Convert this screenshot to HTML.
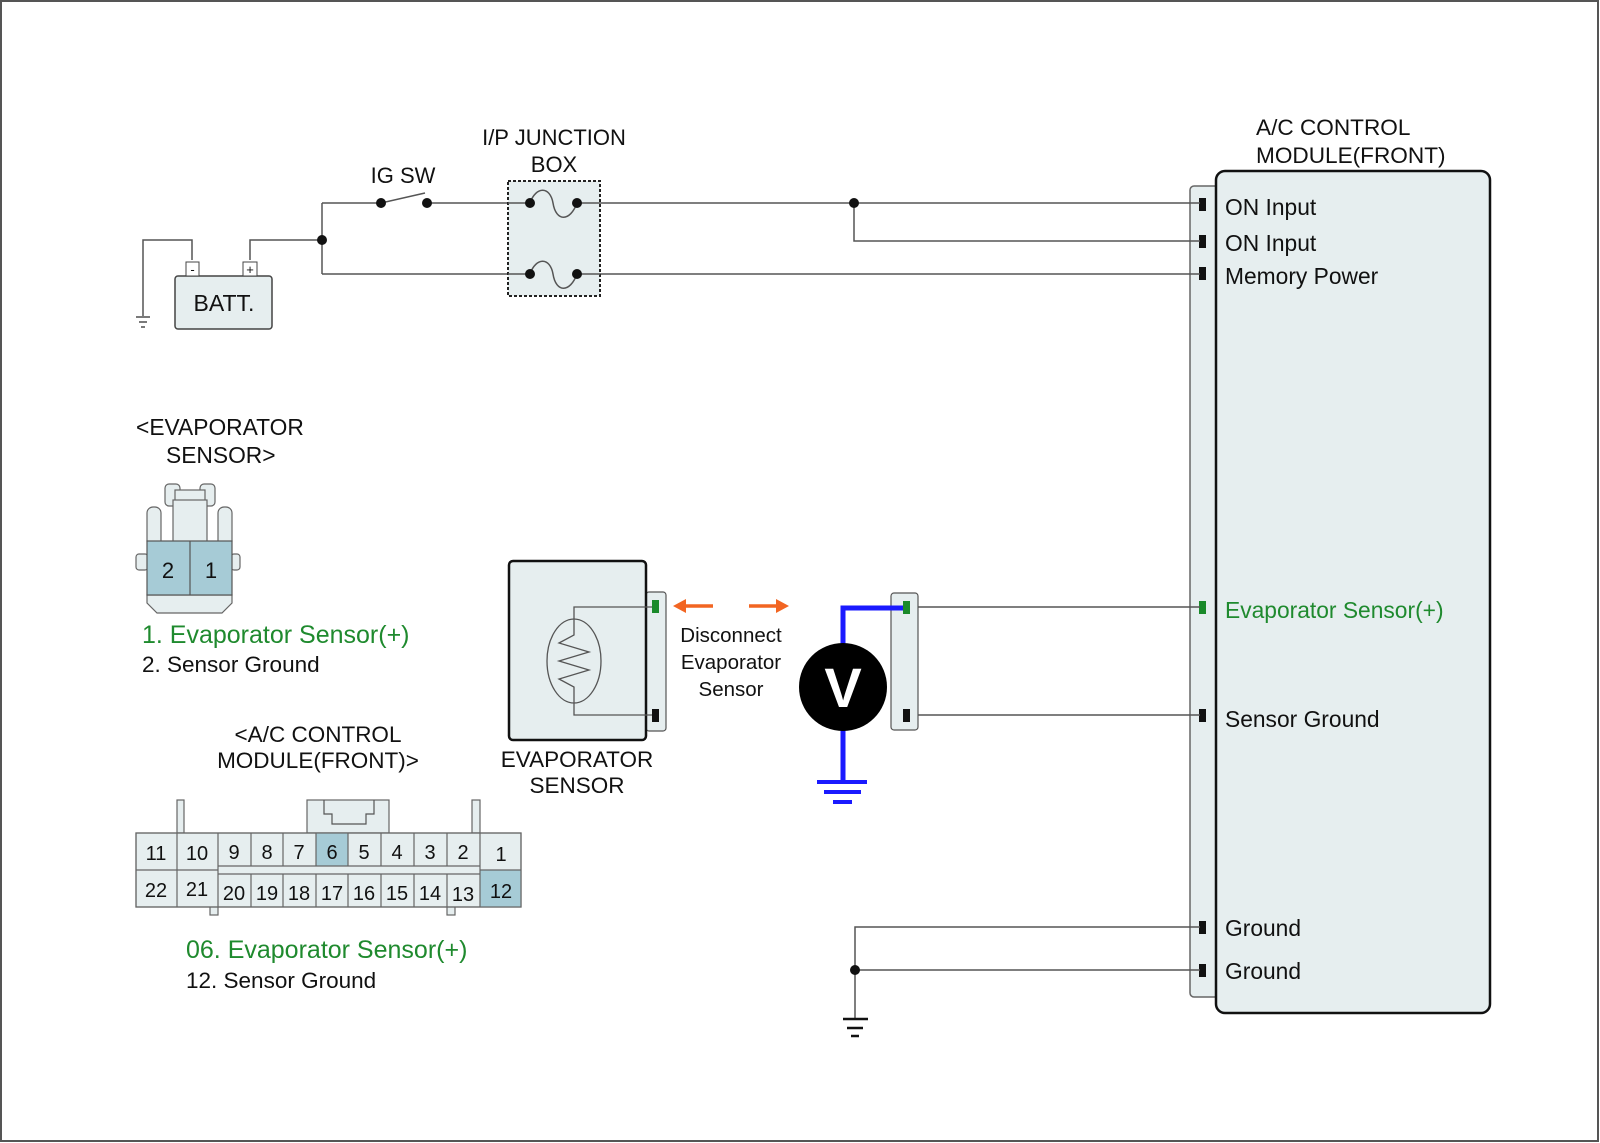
<!DOCTYPE html>
<html><head><meta charset="utf-8"><style>
html,body{margin:0;padding:0;background:#fff}
svg{display:block}
text{font-family:"Liberation Sans",Arial,sans-serif;fill:#111}
</style></head><body>
<svg width="1600" height="1143" viewBox="0 0 1600 1143" xmlns="http://www.w3.org/2000/svg">
<rect x="1" y="1" width="1597" height="1140" fill="#fff" stroke="#555" stroke-width="2"/>

<!-- A/C module -->
<rect x="1190" y="186" width="30" height="811" rx="4" fill="#e6eeef" stroke="#666" stroke-width="1.5"/>
<rect x="1216" y="171" width="274" height="842" rx="9" fill="#e6eeef" stroke="#111" stroke-width="2.5"/>
<text x="1256" y="135" font-size="22.6">A/C CONTROL</text>
<text x="1256" y="163" font-size="22.6">MODULE(FRONT)</text>
<g fill="#111">
<rect x="1199" y="198" width="7" height="13"/><rect x="1199" y="235" width="7" height="13"/><rect x="1199" y="267" width="7" height="13"/>
<rect x="1199" y="709" width="7" height="13"/><rect x="1199" y="921" width="7" height="13"/><rect x="1199" y="964" width="7" height="13"/>
</g>
<rect x="1199" y="601" width="7" height="13" fill="#1a8a2a"/>
<g font-size="22.8">
<text x="1225" y="215">ON Input</text>
<text x="1225" y="251">ON Input</text>
<text x="1225" y="284">Memory Power</text>
<text x="1225" y="618" style="fill:#1f8a2e">Evaporator Sensor(+)</text>
<text x="1225" y="727">Sensor Ground</text>
<text x="1225" y="936">Ground</text>
<text x="1225" y="979">Ground</text>
</g>

<!-- Power wiring -->
<g stroke="#555" stroke-width="1.5" fill="none">
<polyline points="143,316 143,240 192,240 192,260"/>
<polyline points="250,260 250,240 322,240"/>
<polyline points="322,203 322,274"/>
<line x1="322" y1="203" x2="381" y2="203"/>
<line x1="381" y1="203" x2="425" y2="193"/>
<line x1="427" y1="203" x2="508" y2="203"/>
<line x1="322" y1="274" x2="508" y2="274"/>
<line x1="600" y1="203" x2="1200" y2="203"/>
<line x1="600" y1="274" x2="1200" y2="274"/>
<polyline points="854,203 854,241 1200,241"/>
<line x1="918" y1="607" x2="1200" y2="607"/>
<line x1="918" y1="715" x2="1200" y2="715"/>
<polyline points="1200,927 855,927 855,1019"/>
<line x1="855" y1="970" x2="1200" y2="970"/>
</g>
<g stroke="#333" stroke-width="1.3"><line x1="136" y1="317" x2="150" y2="317"/><line x1="139" y1="322" x2="147" y2="322"/><line x1="141" y1="327" x2="145" y2="327"/></g>
<g stroke="#111" stroke-width="2.5"><line x1="843" y1="1019" x2="868" y2="1019"/><line x1="847" y1="1028" x2="863" y2="1028"/><line x1="851" y1="1036" x2="859" y2="1036"/></g>
<rect x="508" y="181" width="92" height="115" fill="#e6eeef" stroke="#222" stroke-width="2" stroke-dasharray="3,2"/>
<g stroke="#555" stroke-width="1.5" fill="none">
<line x1="508" y1="203" x2="530" y2="203"/><line x1="508" y1="274" x2="530" y2="274"/>
<line x1="577" y1="203" x2="600" y2="203"/><line x1="577" y1="274" x2="600" y2="274"/>
<path d="M530,203 C536,186 550,186 553,203 C556,222 570,222 577,203"/>
<path d="M530,274 C536,257 550,257 553,274 C556,293 570,293 577,274"/>
</g>
<g fill="#111">
<circle cx="322" cy="240" r="5"/><circle cx="381" cy="203" r="5"/><circle cx="427" cy="203" r="5"/>
<circle cx="530" cy="203" r="5"/><circle cx="577" cy="203" r="5"/><circle cx="530" cy="274" r="5"/><circle cx="577" cy="274" r="5"/>
<circle cx="854" cy="203" r="5"/><circle cx="855" cy="970" r="5"/>
</g>
<text x="403" y="183" font-size="22" text-anchor="middle">IG SW</text>
<text x="554" y="145" font-size="22" text-anchor="middle">I/P JUNCTION</text>
<text x="554" y="172" font-size="22" text-anchor="middle">BOX</text>

<!-- Battery -->
<rect x="175" y="276" width="97" height="53" rx="3" fill="#e6eeef" stroke="#444" stroke-width="1.5"/>
<rect x="186" y="262" width="13" height="14" fill="#fff" stroke="#444"/>
<rect x="243" y="262" width="14" height="14" fill="#fff" stroke="#444"/>
<text x="192.5" y="274" font-size="13" text-anchor="middle">-</text>
<text x="250" y="274" font-size="13" text-anchor="middle">+</text>
<text x="224" y="311" font-size="23" text-anchor="middle">BATT.</text>

<!-- Evaporator connector face -->
<text x="136" y="435" font-size="22.8">&lt;EVAPORATOR</text>
<text x="166" y="463" font-size="22.8">SENSOR&gt;</text>
<g fill="#e6eeef" stroke="#666" stroke-width="1.2">
<rect x="165" y="484" width="15" height="22" rx="4"/><rect x="200" y="484" width="15" height="22" rx="4"/>
<rect x="175" y="490" width="30" height="12"/>
<rect x="173" y="500" width="34" height="42"/>
<rect x="147" y="507" width="14" height="40" rx="6"/><rect x="218" y="507" width="14" height="40" rx="6"/>
<rect x="136" y="554" width="12" height="16" rx="3"/><rect x="231" y="554" width="9" height="16" rx="3"/>
<path d="M147,595 L232,595 L232,603 L222,613 L157,613 L147,603 Z"/>
</g>
<rect x="147" y="541" width="85" height="54" fill="#a6cbd6" stroke="#555" stroke-width="1.2"/>
<line x1="190" y1="541" x2="190" y2="595" stroke="#555" stroke-width="1.2"/>
<text x="168" y="578" font-size="22" text-anchor="middle">2</text>
<text x="211" y="578" font-size="22" text-anchor="middle">1</text>
<text x="142" y="643" font-size="25" style="fill:#1f8a2e">1. Evaporator Sensor(+)</text>
<text x="142" y="672" font-size="22.5">2. Sensor Ground</text>

<!-- A/C module connector face -->
<text x="318" y="742" font-size="22.5" text-anchor="middle">&lt;A/C CONTROL</text>
<text x="318" y="768" font-size="22.5" text-anchor="middle">MODULE(FRONT)&gt;</text>
<g fill="#e6eeef" stroke="#666" stroke-width="1.2">
<rect x="177" y="800" width="7" height="33"/><rect x="472" y="800" width="8" height="33"/>
<rect x="307" y="800" width="82" height="33"/>
<rect x="210" y="905" width="8" height="10"/><rect x="447" y="905" width="8" height="10"/>
<rect x="136" y="833" width="385" height="74"/>
</g>
<path d="M324,800 L324,814 L332,814 L332,824 L366,824 L366,814 L374,814 L374,800" fill="none" stroke="#555" stroke-width="1.2"/>
<rect x="316" y="833" width="32" height="33" fill="#a6cbd6"/>
<rect x="480" y="870" width="41" height="37" fill="#a6cbd6"/>
<g stroke="#666" stroke-width="1.2" fill="none">
<rect x="136" y="833" width="385" height="74"/>
<line x1="136" y1="870" x2="218" y2="870"/><line x1="480" y1="870" x2="521" y2="870"/>
<line x1="218" y1="866" x2="480" y2="866"/><line x1="218" y1="874" x2="480" y2="874"/>
<line x1="177" y1="833" x2="177" y2="907"/><line x1="218" y1="833" x2="218" y2="907"/>
<line x1="251" y1="833" x2="251" y2="866"/><line x1="283" y1="833" x2="283" y2="866"/><line x1="316" y1="833" x2="316" y2="866"/><line x1="348" y1="833" x2="348" y2="866"/><line x1="381" y1="833" x2="381" y2="866"/><line x1="414" y1="833" x2="414" y2="866"/><line x1="447" y1="833" x2="447" y2="866"/>
<line x1="251" y1="874" x2="251" y2="907"/><line x1="283" y1="874" x2="283" y2="907"/><line x1="316" y1="874" x2="316" y2="907"/><line x1="348" y1="874" x2="348" y2="907"/><line x1="381" y1="874" x2="381" y2="907"/><line x1="414" y1="874" x2="414" y2="907"/><line x1="447" y1="874" x2="447" y2="907"/>
<line x1="480" y1="833" x2="480" y2="907"/>
</g>
<g font-size="20" text-anchor="middle">
<text x="156" y="860">11</text><text x="197" y="860">10</text><text x="234" y="859">9</text><text x="267" y="859">8</text><text x="299" y="859">7</text><text x="332" y="859">6</text><text x="364" y="859">5</text><text x="397" y="859">4</text><text x="430" y="859">3</text><text x="463" y="859">2</text><text x="501" y="861">1</text>
<text x="156" y="897">22</text><text x="197" y="896">21</text><text x="234" y="900">20</text><text x="267" y="900">19</text><text x="299" y="900">18</text><text x="332" y="900">17</text><text x="364" y="900">16</text><text x="397" y="900">15</text><text x="430" y="900">14</text><text x="463" y="901">13</text><text x="501" y="898">12</text>
</g>
<text x="186" y="958" font-size="25" style="fill:#1f8a2e">06. Evaporator Sensor(+)</text>
<text x="186" y="988" font-size="22.5">12. Sensor Ground</text>

<!-- Evaporator sensor -->
<rect x="646" y="592" width="20" height="139" rx="3" fill="#e6eeef" stroke="#555" stroke-width="1.2"/>
<rect x="509" y="561" width="137" height="179" rx="4" fill="#e6eeef" stroke="#111" stroke-width="2.5"/>
<rect x="652" y="600" width="7" height="13" fill="#1a8a2a"/>
<rect x="652" y="709" width="7" height="13" fill="#111"/>
<g stroke="#555" stroke-width="1.3" fill="none">
<polyline points="652,607 574,607 574,620"/>
<polyline points="574,703 574,715 652,715"/>
<ellipse cx="574" cy="661" rx="27" ry="42"/>
<polyline points="574,620 574,635 559,643 589,652 559,661 589,670 559,679 574,687 574,703"/>
</g>
<text x="577" y="767" font-size="22.5" text-anchor="middle">EVAPORATOR</text>
<text x="577" y="793" font-size="22.5" text-anchor="middle">SENSOR</text>
<g stroke="#f26522" stroke-width="3.5" fill="#f26522">
<line x1="713" y1="606" x2="684" y2="606"/><line x1="749" y1="606" x2="778" y2="606"/>
</g>
<polygon points="673,606 686,599 686,613" fill="#f26522"/>
<polygon points="789,606 776,599 776,613" fill="#f26522"/>
<text x="731" y="642" font-size="20.5" text-anchor="middle">Disconnect</text>
<text x="731" y="669" font-size="20.5" text-anchor="middle">Evaporator</text>
<text x="731" y="696" font-size="20.5" text-anchor="middle">Sensor</text>

<!-- Voltmeter -->
<rect x="891" y="593" width="27" height="137" rx="3" fill="#e6eeef" stroke="#555" stroke-width="1.2"/>
<rect x="903" y="709" width="7" height="13" fill="#111"/>
<polyline points="843,782 843,608 906,608" fill="none" stroke="#1a1aff" stroke-width="5"/>
<rect x="903" y="601" width="7" height="13" fill="#1a8a2a"/>
<circle cx="843" cy="687" r="44" fill="#000"/>
<text x="843" y="707" font-size="56" font-weight="bold" text-anchor="middle" style="fill:#fff">V</text>
<g stroke="#1a1aff" stroke-width="4"><line x1="817" y1="782" x2="867" y2="782"/><line x1="824" y1="792" x2="861" y2="792"/><line x1="833" y1="802" x2="852" y2="802"/></g>
</svg>
</body></html>
